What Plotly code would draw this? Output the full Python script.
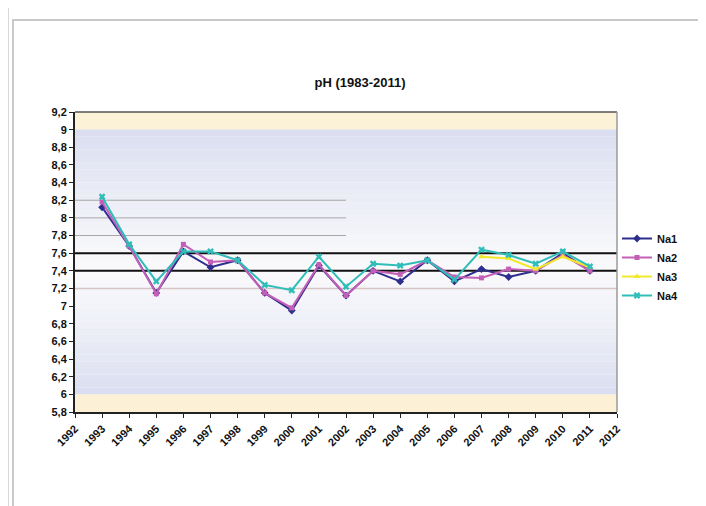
import plotly.graph_objects as go

# ---------------- data ----------------
years = list(range(1993, 2012))
na1 = [8.12, 7.68, 7.15, 7.62, 7.44, 7.52, 7.15, 6.95, 7.46, 7.12, 7.40, 7.28, 7.52, 7.28, 7.42, 7.33, 7.40, 7.60, 7.40]
na2 = [8.18, 7.68, 7.14, 7.70, 7.50, 7.52, 7.15, 6.98, 7.47, 7.12, 7.40, 7.36, 7.52, 7.33, 7.32, 7.42, 7.40, 7.58, 7.40]
na3_years = [2007, 2008, 2009, 2010, 2011]
na3 = [7.56, 7.54, 7.42, 7.56, 7.44]
na4 = [8.24, 7.70, 7.28, 7.62, 7.62, 7.52, 7.24, 7.18, 7.56, 7.22, 7.48, 7.46, 7.52, 7.30, 7.64, 7.58, 7.48, 7.62, 7.45]

x_ticks = list(range(1992, 2013))
y_tickvals = [9.2, 9.0, 8.8, 8.6, 8.4, 8.2, 8.0, 7.8, 7.6, 7.4, 7.2, 7.0, 6.8, 6.6, 6.4, 6.2, 6.0, 5.8]
y_ticktext = ["9,2", "9", "8,8", "8,6", "8,4", "8,2", "8", "7,8", "7,6", "7,4", "7,2", "7", "6,8", "6,6", "6,4", "6,2", "6", "5,8"]

# reference lines
grey_levels = [8.2, 8.0, 7.8]
grey_span = [1992, 2002]
black_levels = [7.6, 7.4]
pink_level = 7.2
full_span = [1992, 2012]

y_min, y_max = 5.8, 9.2
band_low, band_high = 6.0, 9.0

FONT = "Liberation Sans"

fig = go.Figure()

# ---- background bands (yellow edges, gradient middle) ----
shapes = []
shapes.append(dict(type="rect", xref="x", yref="y", x0=full_span[0], x1=full_span[1],
                   y0=band_high, y1=y_max, fillcolor="#FCF2D8", line_width=0, layer="below"))
shapes.append(dict(type="rect", xref="x", yref="y", x0=full_span[0], x1=full_span[1],
                   y0=y_min, y1=band_low, fillcolor="#FCF0D6", line_width=0, layer="below"))
n = 40
mid = 7.4
edge = (218, 222, 240)
white = (250, 250, 252)
for i in range(n):
    y0 = band_low + (band_high - band_low) * i / n
    y1 = band_low + (band_high - band_low) * (i + 1) / n
    yc = (y0 + y1) / 2
    d = (yc - mid) / (band_high - mid) if yc > mid else (mid - yc) / (mid - band_low)
    t = min(1.0, max(0.0, d)) ** 1.2
    c = tuple(int(white[k] + (edge[k] - white[k]) * t) for k in range(3))
    shapes.append(dict(type="rect", xref="x", yref="y", x0=full_span[0], x1=full_span[1],
                       y0=y0, y1=y1 + 0.001, fillcolor="rgb(%d,%d,%d)" % c, line_width=0, layer="below"))

# ---- outer frame of the screenshot (paper coords, screen pixels) ----
def px(xp):
    return (xp - 75) / 542.0

def py(yp):
    return (412 - yp) / 300.0

frame_col = "#C9C9C9"
shapes += [
    dict(type="line", xref="paper", yref="paper", x0=px(8), x1=px(8), y0=py(8), y1=py(520),
         line=dict(color="#D8D8D8", width=2)),
    dict(type="rect", xref="paper", yref="paper", x0=px(13), x1=px(700), y0=py(20), y1=py(530),
         line=dict(color=frame_col, width=2), fillcolor="rgba(0,0,0,0)"),
]

# ---- reference line traces ----
for lv in grey_levels:
    fig.add_trace(go.Scatter(x=grey_span, y=[lv, lv], mode="lines",
                             line=dict(color="#A8A8A8", width=1), showlegend=False, hoverinfo="skip"))
fig.add_trace(go.Scatter(x=full_span, y=[pink_level, pink_level], mode="lines",
                         line=dict(color="#D6C4C4", width=1.5), showlegend=False, hoverinfo="skip"))
for lv in black_levels:
    fig.add_trace(go.Scatter(x=full_span, y=[lv, lv], mode="lines",
                             line=dict(color="#111111", width=2), showlegend=False, hoverinfo="skip"))

# ---- data series ----
fig.add_trace(go.Scatter(x=years, y=na1, name="<b>Na1</b>", mode="lines+markers",
                         line=dict(color="#2E2E8C", width=2),
                         marker=dict(symbol="diamond", size=6, color="#2E2E8C")))
fig.add_trace(go.Scatter(x=years, y=na2, name="<b>Na2</b>", mode="lines+markers",
                         line=dict(color="#C45FB8", width=2),
                         marker=dict(symbol="square", size=5, color="#C45FB8")))
fig.add_trace(go.Scatter(x=na3_years, y=na3, name="<b>Na3</b>", mode="lines+markers",
                         line=dict(color="#F2E82A", width=2),
                         marker=dict(symbol="triangle-up", size=6, color="#F2E82A")))
fig.add_trace(go.Scatter(x=years, y=na4, name="<b>Na4</b>", mode="lines+markers",
                         line=dict(color="#2FBDB8", width=2),
                         marker=dict(symbol="x", size=6, color="#2FBDB8")))

fig.update_layout(
    width=706, height=506,
    margin=dict(l=67, r=97, t=104, b=102),
    paper_bgcolor="white", plot_bgcolor="white",
    shapes=shapes,
    title=dict(text="<b>pH (1983-2011)</b>", x=px(360), xref="paper", xanchor="center",
               y=1 - 74 / 506, yref="container", yanchor="middle",
               font=dict(family=FONT, size=13, color="#111111")),
    font=dict(family=FONT, color="#111111"),
    legend=dict(x=px(617), y=py(224), xanchor="left", yanchor="top",
                font=dict(family=FONT, size=11, color="#111111"),
                bgcolor="rgba(0,0,0,0)", itemwidth=30, tracegroupgap=0),
    showlegend=True,
)

fig.update_xaxes(range=[1992, 2012], tickmode="array", tickvals=x_ticks,
                 ticktext=["<b>%d</b>" % y for y in x_ticks], tickangle=-45,
                 tickfont=dict(family=FONT, size=11, color="#111111"),
                 showgrid=False, zeroline=False, showline=True, linecolor="#222222", linewidth=2,
                 ticks="outside", ticklen=4, tickcolor="#222222", mirror=False)
fig.update_yaxes(range=[y_min, y_max], tickmode="array", tickvals=y_tickvals,
                 ticktext=["<b>%s</b>" % t for t in y_ticktext],
                 tickfont=dict(family=FONT, size=11, color="#111111"),
                 showgrid=False, zeroline=False, showline=True, linecolor="#222222", linewidth=2,
                 ticks="outside", ticklen=4, tickcolor="#222222")

# plot-area top/right border
fig.add_shape(type="line", xref="paper", yref="paper", x0=0, x1=1, y0=1, y1=1,
              line=dict(color="#555555", width=1.5))
fig.add_shape(type="line", xref="paper", yref="paper", x0=1, x1=1, y0=0, y1=1,
              line=dict(color="#9A9A9A", width=1.5))

fig.write_html("out.html")
